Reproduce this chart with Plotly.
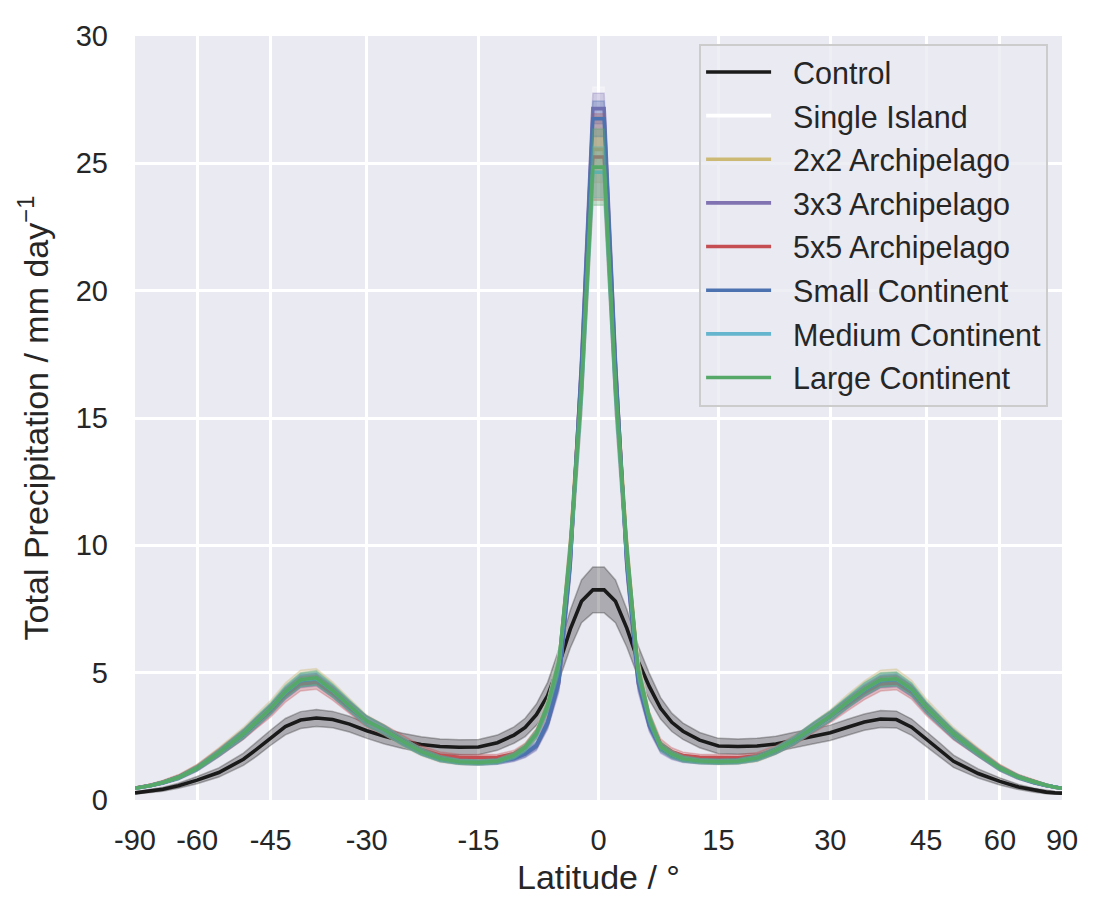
import numpy as np
import plotly.graph_objects as go

# latitude of each sample (degrees); the x axis is area-weighted (sine of latitude)
LAT = [-89.3, -85, -80, -75, -70, -65, -60, -55, -50, -47.5, -45, -42.5, -40, -37.5, -35, -32.5,
       -30, -27.5, -25, -22.5, -20, -17.5, -15, -12.6, -10.5, -9.1, -7.7, -6.3, -4.9, -3.5, -2.1, -0.7,
       0.7, 2.1, 3.5, 4.9, 6.3, 7.7, 9.1, 10.5, 12.6, 15, 17.5, 20, 22.5, 25, 27.5, 30,
       32.5, 35, 37.5, 40, 42.5, 45, 47.5, 50, 55, 60, 65, 70, 75, 80, 85, 89.3]

TICK_LAT = [-90, -60, -45, -30, -15, 0, 15, 30, 45, 60, 90]
TICK_TEXT = ['-90', '-60', '-45', '-30', '-15', '0', '15', '30', '45', '60', '90']

# zonal mean total precipitation, mm/day
control = [0.28, 0.29, 0.31, 0.35, 0.42, 0.56, 0.78, 1.08, 1.6, 2.0, 2.45, 2.88, 3.14, 3.22, 3.16, 2.98,
           2.72, 2.5, 2.32, 2.18, 2.1, 2.07, 2.08, 2.25, 2.55, 2.85, 3.35, 4.1, 5.3, 6.7, 7.8, 8.25,
           8.25, 7.8, 6.75, 5.45, 4.45, 3.6, 3.05, 2.7, 2.35, 2.12, 2.1, 2.12, 2.2, 2.36, 2.5, 2.64,
           2.86, 3.06, 3.18, 3.16, 2.86, 2.4, 1.95, 1.52, 1.04, 0.73, 0.51, 0.38, 0.31, 0.28, 0.27, 0.27]
single_island = [0.46, 0.47, 0.5, 0.57, 0.68, 0.87, 1.24, 1.84, 2.58, 3.08, 3.58, 4.22, 4.7, 4.76, 4.28, 3.68,
                 3.1, 2.74, 2.3, 1.9, 1.64, 1.52, 1.5, 1.55, 1.78, 2.1, 2.65, 3.75, 5.5, 10.0, 17.0, 26.5,
                 26.5, 17.0, 10.0, 5.3, 3.3, 2.2, 1.85, 1.65, 1.55, 1.52, 1.53, 1.66, 1.95, 2.34, 2.83, 3.28,
                 3.83, 4.32, 4.7, 4.74, 4.33, 3.63, 3.08, 2.58, 1.84, 1.24, 0.89, 0.69, 0.57, 0.5, 0.47, 0.46]
arch_2x2 = [0.47, 0.48, 0.51, 0.58, 0.7, 0.9, 1.28, 1.9, 2.66, 3.16, 3.66, 4.32, 4.8, 4.86, 4.36, 3.74,
            3.12, 2.74, 2.28, 1.88, 1.6, 1.48, 1.46, 1.52, 1.76, 2.08, 2.62, 3.72, 5.4, 9.9, 16.6, 25.55,
            25.55, 16.6, 9.9, 5.2, 3.25, 2.15, 1.8, 1.62, 1.52, 1.48, 1.5, 1.62, 1.92, 2.32, 2.84, 3.32,
            3.9, 4.4, 4.8, 4.84, 4.42, 3.72, 3.16, 2.66, 1.9, 1.28, 0.91, 0.71, 0.58, 0.5, 0.47, 0.46]
arch_3x3 = [0.46, 0.47, 0.5, 0.57, 0.68, 0.87, 1.23, 1.82, 2.56, 3.05, 3.55, 4.18, 4.65, 4.72, 4.25, 3.66,
            3.1, 2.74, 2.3, 1.9, 1.62, 1.5, 1.47, 1.5, 1.62, 1.8, 2.1, 3.0, 4.6, 9.2, 17.2, 27.15,
            27.15, 17.2, 9.2, 4.6, 2.9, 2.0, 1.72, 1.58, 1.52, 1.5, 1.52, 1.64, 1.93, 2.32, 2.82, 3.27,
            3.8, 4.28, 4.64, 4.68, 4.28, 3.6, 3.06, 2.56, 1.83, 1.24, 0.89, 0.69, 0.57, 0.5, 0.47, 0.46]
arch_5x5 = [0.47, 0.48, 0.51, 0.58, 0.7, 0.9, 1.27, 1.86, 2.58, 3.04, 3.5, 4.1, 4.55, 4.62, 4.18, 3.62,
            3.08, 2.75, 2.35, 1.98, 1.76, 1.68, 1.67, 1.68, 1.82, 2.08, 2.6, 3.6, 5.2, 9.7, 16.3, 25.25,
            25.25, 16.3, 9.7, 5.0, 3.15, 2.2, 1.9, 1.75, 1.68, 1.66, 1.66, 1.74, 1.98, 2.35, 2.82, 3.25,
            3.74, 4.2, 4.55, 4.6, 4.22, 3.56, 3.04, 2.56, 1.86, 1.27, 0.91, 0.71, 0.58, 0.5, 0.47, 0.46]
small_cont = [0.46, 0.47, 0.5, 0.57, 0.68, 0.87, 1.24, 1.84, 2.58, 3.07, 3.57, 4.2, 4.68, 4.75, 4.27, 3.68,
              3.1, 2.74, 2.3, 1.9, 1.62, 1.5, 1.47, 1.5, 1.64, 1.82, 2.15, 3.05, 4.7, 9.3, 17.0, 26.75,
              26.75, 17.0, 9.3, 4.7, 2.95, 2.05, 1.75, 1.6, 1.52, 1.5, 1.52, 1.65, 1.94, 2.33, 2.83, 3.28,
              3.82, 4.3, 4.67, 4.72, 4.3, 3.62, 3.07, 2.57, 1.84, 1.24, 0.89, 0.69, 0.57, 0.5, 0.47, 0.46]
medium_cont = [0.46, 0.47, 0.5, 0.57, 0.69, 0.88, 1.25, 1.85, 2.6, 3.1, 3.6, 4.24, 4.72, 4.78, 4.3, 3.7,
               3.1, 2.75, 2.3, 1.9, 1.63, 1.5, 1.47, 1.52, 1.74, 2.04, 2.58, 3.65, 5.35, 9.7, 16.0, 24.65,
               24.65, 16.0, 9.7, 5.05, 3.2, 2.1, 1.8, 1.62, 1.53, 1.5, 1.52, 1.65, 1.95, 2.35, 2.85, 3.3,
               3.85, 4.35, 4.72, 4.76, 4.35, 3.65, 3.1, 2.6, 1.85, 1.25, 0.9, 0.7, 0.58, 0.5, 0.47, 0.46]
large_cont = [0.46, 0.47, 0.5, 0.57, 0.69, 0.88, 1.25, 1.85, 2.6, 3.1, 3.6, 4.25, 4.72, 4.8, 4.3, 3.7,
              3.1, 2.75, 2.3, 1.9, 1.63, 1.5, 1.47, 1.52, 1.75, 2.05, 2.6, 3.7, 5.4, 9.8, 16.2, 24.85,
              24.85, 16.2, 9.8, 5.1, 3.2, 2.1, 1.8, 1.62, 1.53, 1.5, 1.52, 1.65, 1.95, 2.35, 2.85, 3.3,
              3.85, 4.35, 4.72, 4.76, 4.35, 3.65, 3.1, 2.6, 1.85, 1.25, 0.9, 0.7, 0.58, 0.5, 0.47, 0.46]

# spread (one standard deviation) shown as the shaded band
control_sd = [0.04, 0.04, 0.05, 0.06, 0.08, 0.1, 0.14, 0.18, 0.24, 0.28, 0.3, 0.32, 0.33, 0.33, 0.32, 0.31,
              0.3, 0.3, 0.3, 0.3, 0.3, 0.3, 0.3, 0.3, 0.32, 0.36, 0.42, 0.52, 0.62, 0.74, 0.84, 0.9,
              0.9, 0.84, 0.74, 0.62, 0.52, 0.42, 0.36, 0.32, 0.3, 0.3, 0.3, 0.3, 0.3, 0.3, 0.3, 0.3,
              0.31, 0.32, 0.33, 0.33, 0.32, 0.3, 0.28, 0.24, 0.18, 0.14, 0.1, 0.08, 0.06, 0.05, 0.04, 0.04]
single_island_sd = [0.03, 0.03, 0.04, 0.05, 0.06, 0.08, 0.1, 0.13, 0.18, 0.2, 0.22, 0.24, 0.26, 0.26, 0.24, 0.22,
                    0.2, 0.18, 0.16, 0.14, 0.12, 0.1, 0.1, 0.1, 0.12, 0.14, 0.18, 0.25, 0.4, 0.7, 1.1, 1.5,
                    1.5, 1.1, 0.7, 0.4, 0.25, 0.18, 0.14, 0.12, 0.1, 0.1, 0.1, 0.12, 0.14, 0.16, 0.18, 0.2,
                    0.22, 0.24, 0.26, 0.26, 0.24, 0.22, 0.2, 0.18, 0.13, 0.1, 0.08, 0.06, 0.05, 0.04, 0.03, 0.03]
arch_2x2_sd = [0.03, 0.03, 0.04, 0.05, 0.07, 0.09, 0.12, 0.16, 0.2, 0.23, 0.26, 0.28, 0.3, 0.3, 0.28, 0.25,
               0.22, 0.2, 0.17, 0.14, 0.12, 0.1, 0.1, 0.1, 0.12, 0.14, 0.18, 0.25, 0.4, 0.7, 1.0, 1.3,
               1.3, 1.0, 0.7, 0.4, 0.25, 0.18, 0.14, 0.12, 0.1, 0.1, 0.1, 0.12, 0.14, 0.17, 0.2, 0.22,
               0.25, 0.28, 0.3, 0.3, 0.28, 0.26, 0.23, 0.2, 0.16, 0.12, 0.09, 0.07, 0.05, 0.04, 0.03, 0.03]
arch_3x3_sd = [0.03, 0.03, 0.04, 0.05, 0.06, 0.08, 0.1, 0.13, 0.17, 0.19, 0.21, 0.23, 0.24, 0.24, 0.23, 0.21,
               0.19, 0.17, 0.15, 0.13, 0.11, 0.1, 0.1, 0.1, 0.11, 0.13, 0.16, 0.22, 0.35, 0.6, 0.8, 0.6,
               0.6, 0.8, 0.6, 0.35, 0.22, 0.16, 0.13, 0.11, 0.1, 0.1, 0.1, 0.11, 0.13, 0.15, 0.17, 0.19,
               0.21, 0.23, 0.24, 0.24, 0.23, 0.21, 0.19, 0.17, 0.13, 0.1, 0.08, 0.06, 0.05, 0.04, 0.03, 0.03]
arch_5x5_sd = [0.03, 0.03, 0.04, 0.05, 0.07, 0.09, 0.12, 0.16, 0.2, 0.22, 0.24, 0.26, 0.27, 0.27, 0.26, 0.24,
               0.22, 0.2, 0.18, 0.15, 0.13, 0.12, 0.12, 0.12, 0.13, 0.15, 0.2, 0.3, 0.45, 0.8, 1.2, 1.7,
               1.7, 1.2, 0.8, 0.45, 0.3, 0.2, 0.15, 0.13, 0.12, 0.12, 0.12, 0.13, 0.15, 0.18, 0.2, 0.22,
               0.24, 0.26, 0.27, 0.27, 0.26, 0.24, 0.22, 0.2, 0.16, 0.12, 0.09, 0.07, 0.05, 0.04, 0.03, 0.03]
small_cont_sd = [0.03, 0.03, 0.04, 0.05, 0.06, 0.08, 0.1, 0.13, 0.17, 0.19, 0.21, 0.23, 0.24, 0.24, 0.23, 0.21,
                 0.19, 0.17, 0.15, 0.13, 0.11, 0.1, 0.1, 0.1, 0.11, 0.13, 0.16, 0.22, 0.35, 0.6, 0.8, 0.7,
                 0.7, 0.8, 0.6, 0.35, 0.22, 0.16, 0.13, 0.11, 0.1, 0.1, 0.1, 0.11, 0.13, 0.15, 0.17, 0.19,
                 0.21, 0.23, 0.24, 0.24, 0.23, 0.21, 0.19, 0.17, 0.13, 0.1, 0.08, 0.06, 0.05, 0.04, 0.03, 0.03]
medium_cont_sd = [0.03, 0.03, 0.04, 0.05, 0.06, 0.08, 0.1, 0.13, 0.18, 0.2, 0.22, 0.24, 0.26, 0.26, 0.24, 0.22,
                  0.2, 0.18, 0.16, 0.14, 0.12, 0.1, 0.1, 0.1, 0.12, 0.14, 0.18, 0.25, 0.4, 0.7, 0.9, 1.0,
                  1.0, 0.9, 0.7, 0.4, 0.25, 0.18, 0.14, 0.12, 0.1, 0.1, 0.1, 0.12, 0.14, 0.16, 0.18, 0.2,
                  0.22, 0.24, 0.26, 0.26, 0.24, 0.22, 0.2, 0.18, 0.13, 0.1, 0.08, 0.06, 0.05, 0.04, 0.03, 0.03]
large_cont_sd = [0.03, 0.03, 0.04, 0.05, 0.06, 0.08, 0.1, 0.13, 0.18, 0.2, 0.22, 0.24, 0.27, 0.28, 0.26, 0.23,
                 0.2, 0.18, 0.16, 0.14, 0.12, 0.1, 0.1, 0.1, 0.12, 0.14, 0.18, 0.25, 0.4, 0.7, 1.0, 1.5,
                 1.5, 1.0, 0.7, 0.4, 0.25, 0.18, 0.14, 0.12, 0.1, 0.1, 0.1, 0.12, 0.14, 0.16, 0.18, 0.2,
                 0.23, 0.26, 0.28, 0.27, 0.24, 0.22, 0.2, 0.18, 0.13, 0.1, 0.08, 0.06, 0.05, 0.04, 0.03, 0.03]

# seaborn "deep" colour codes k, w, y, m, r, b, c, g
experiments = [
    ('Control', (26, 26, 26), control, control_sd),
    ('Single Island', (255, 255, 255), single_island, single_island_sd),
    ('2x2 Archipelago', (204, 185, 116), arch_2x2, arch_2x2_sd),
    ('3x3 Archipelago', (129, 114, 178), arch_3x3, arch_3x3_sd),
    ('5x5 Archipelago', (196, 78, 82), arch_5x5, arch_5x5_sd),
    ('Small Continent', (76, 114, 176), small_cont, small_cont_sd),
    ('Medium Continent', (100, 181, 205), medium_cont, medium_cont_sd),
    ('Large Continent', (85, 168, 104), large_cont, large_cont_sd),
]

FONT = 'Liberation Sans, Arial, sans-serif'
TEXT = '#262626'

x = np.sin(np.radians(LAT))

fig = go.Figure()
for name, rgb, vals, sd in experiments:
    v = np.array(vals)
    s = np.array(sd)
    band = 'rgba(%d,%d,%d,0.3)' % rgb
    fig.add_trace(go.Scatter(
        x=np.concatenate([x, x[::-1]]),
        y=np.concatenate([v + s, (v - s)[::-1]]),
        fill='toself', fillcolor=band,
        line=dict(color=band, width=1.5),
        mode='lines', showlegend=False, hoverinfo='skip',
        legendgroup=name
    ))
    fig.add_trace(go.Scatter(
        x=x, y=v, mode='lines',
        name='\u00a0\u00a0' + name,   # matplotlib leaves a wider gap after the handle
        line=dict(color='rgb(%d,%d,%d)' % rgb, width=3.6),
        legendgroup=name
    ))

# the page body adds an 8px offset, so margins are shifted to put the axes where they belong
fig.update_layout(
    width=1100, height=917,
    margin=dict(l=127, r=46, t=25, b=125),
    paper_bgcolor='white',
    plot_bgcolor='#EAEAF2',
    font=dict(family=FONT, size=28, color=TEXT),
    showlegend=True,
    legend=dict(
        x=0.985, y=0.99, xanchor='right', yanchor='top',
        bgcolor='rgba(234,234,242,0.8)', bordercolor='#CCCCCC', borderwidth=2,
        font=dict(family=FONT, size=30.5, color=TEXT),
        traceorder='grouped', tracegroupgap=1, itemwidth=65
    )
)

fig.update_xaxes(
    range=[-1, 1],
    tickvals=np.sin(np.radians(TICK_LAT)), ticktext=TICK_TEXT,
    tickfont=dict(family=FONT, size=29, color=TEXT),
    showgrid=True, gridcolor='white', gridwidth=2.8,
    zeroline=False, showline=False, ticks='',
    ticklabelstandoff=20,
    title_text='Latitude / °', title_standoff=10
)
fig.update_yaxes(
    range=[0, 30], dtick=5,
    tickfont=dict(family=FONT, size=29, color=TEXT),
    showgrid=True, gridcolor='white', gridwidth=2.8,
    zeroline=False, showline=False, ticks='',
    ticklabelstandoff=26,
    title_text='Total Precipitation / mm day<sup>−1</sup>', title_standoff=16
)

fig.write_html("out.html")
